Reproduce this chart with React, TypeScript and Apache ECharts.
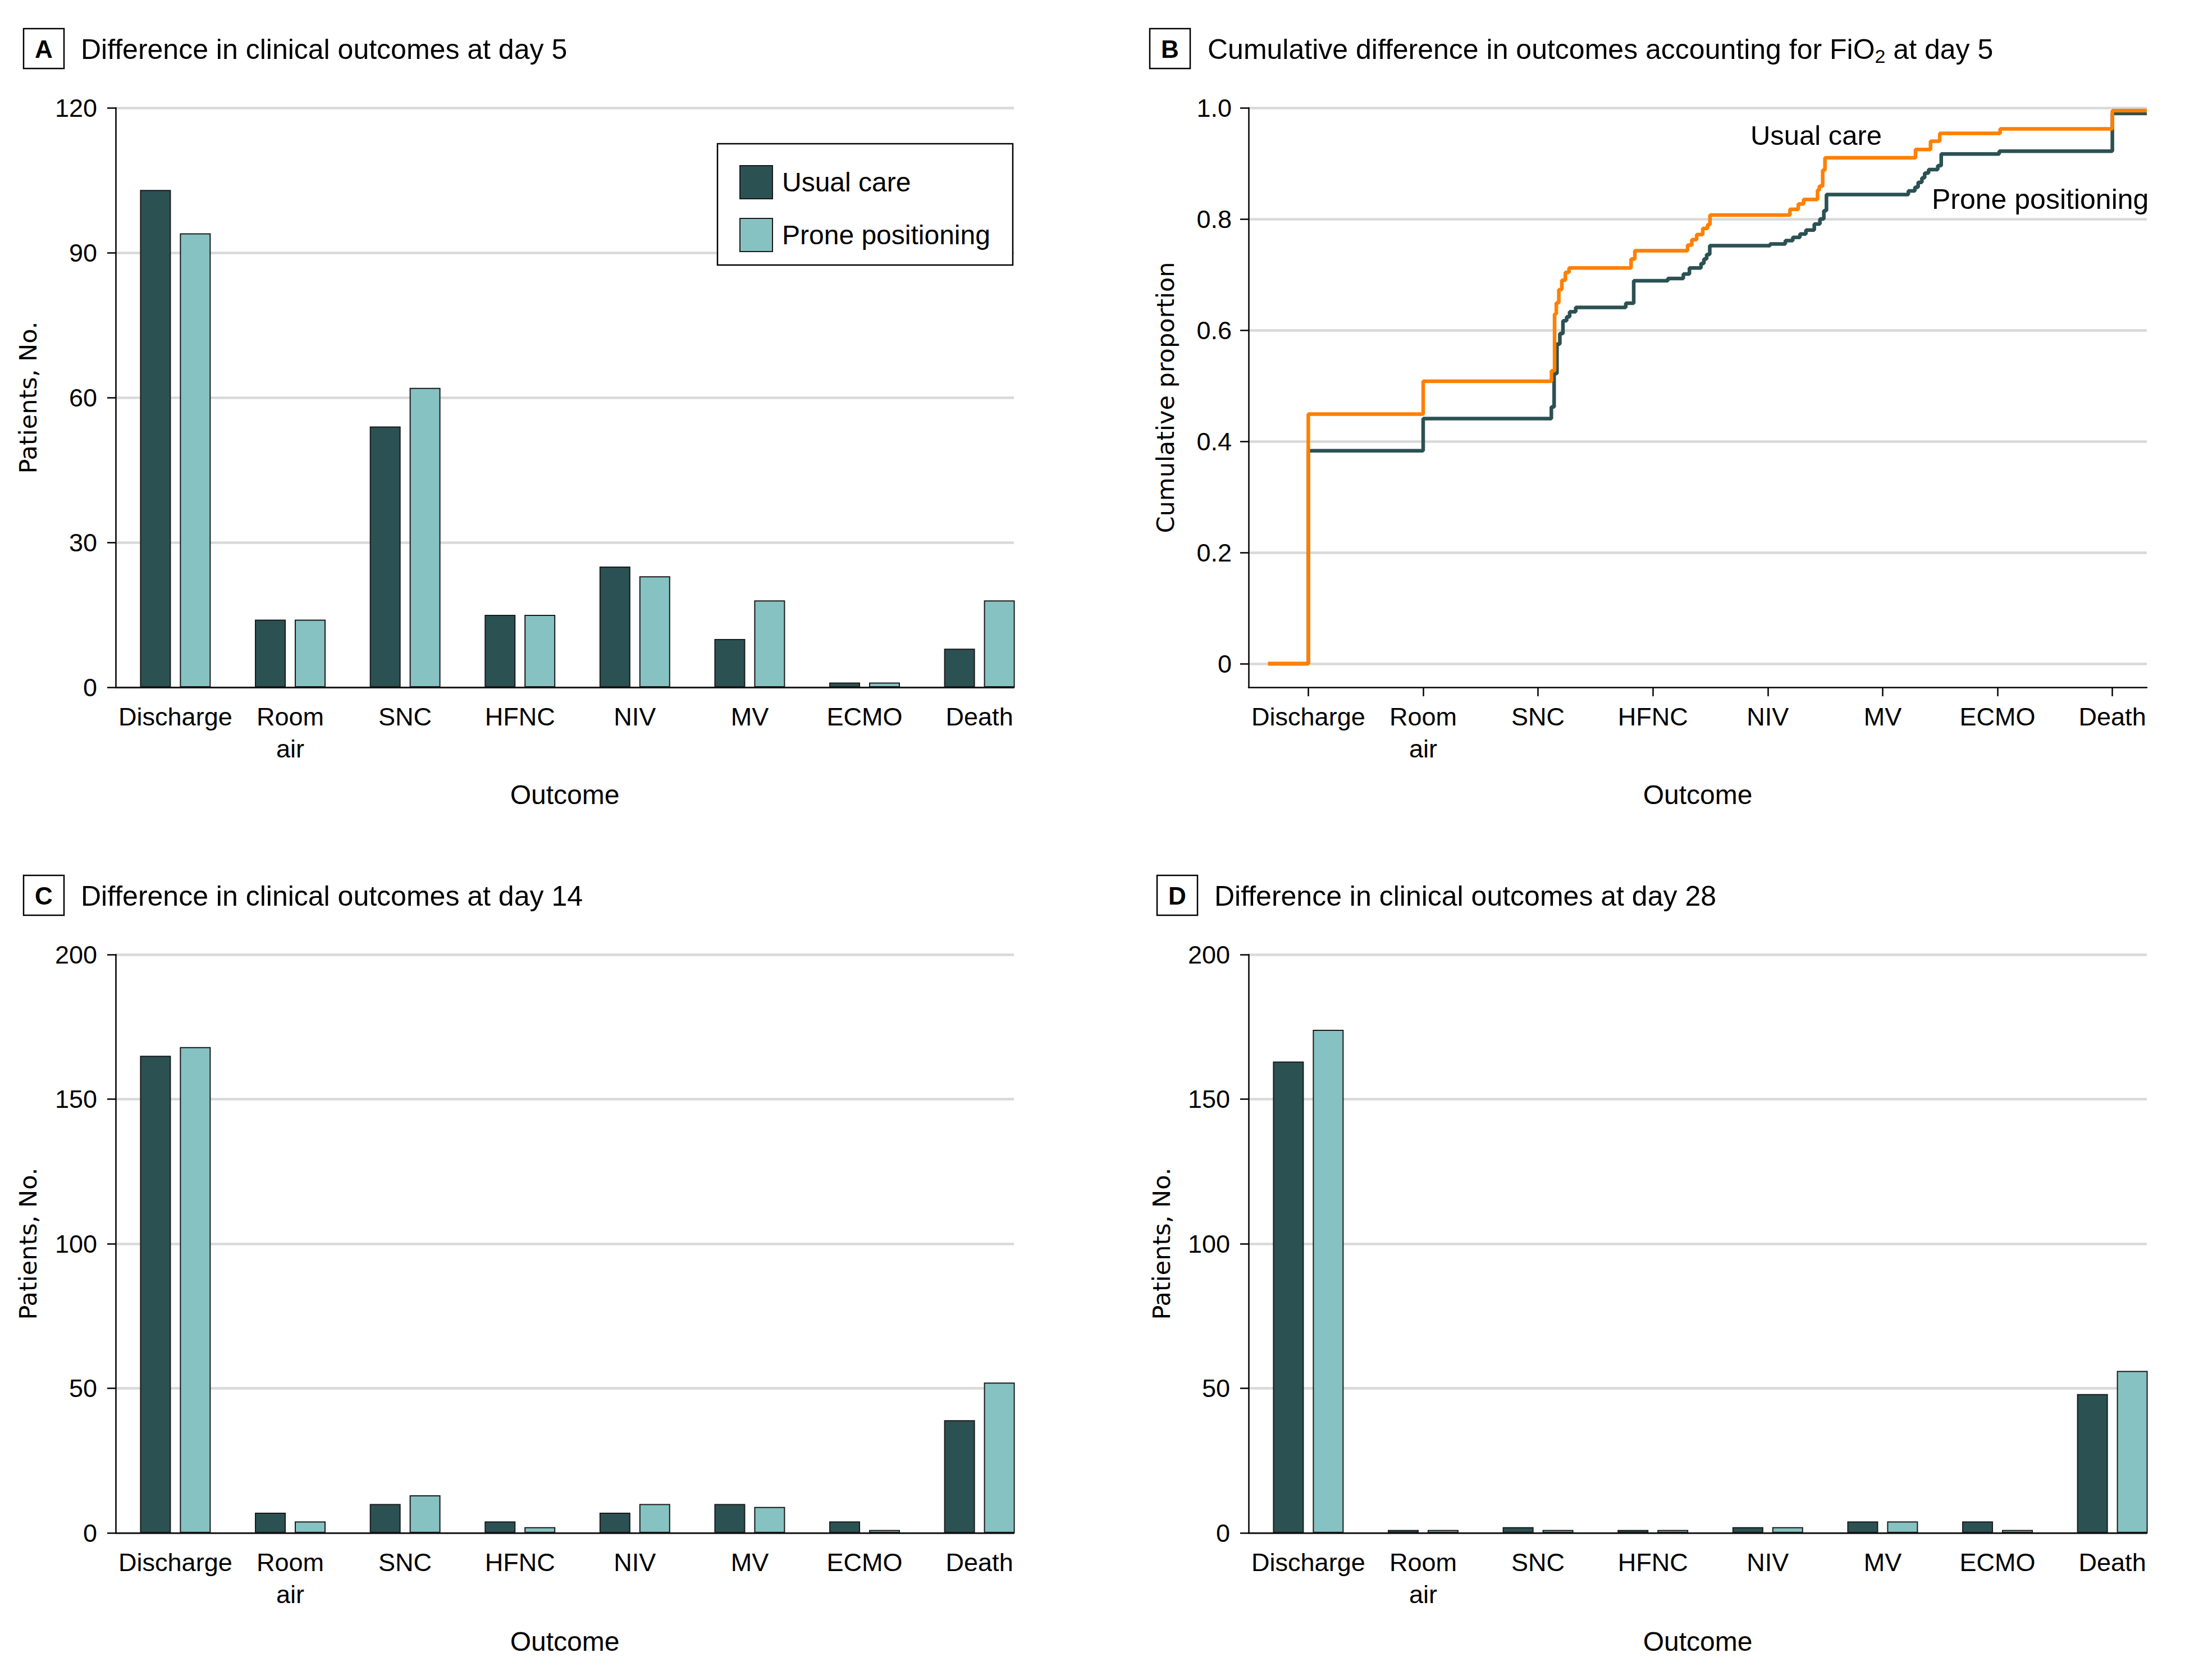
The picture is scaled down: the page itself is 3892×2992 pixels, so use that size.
import React, { useEffect, useRef } from 'react';
import * as echarts from 'echarts';

// ---------- data ----------
const outcomes = ['Discharge', 'Room\nair', 'SNC', 'HFNC', 'NIV', 'MV', 'ECMO', 'Death'];
const outcomePositions = [1, 2, 3, 4, 5, 6, 7, 8];

const day5UsualCare = [103, 14, 54, 15, 25, 10, 1, 8];
const day5Prone = [94, 14, 62, 15, 23, 18, 1, 18];
const day14UsualCare = [165, 7, 10, 4, 7, 10, 4, 39];
const day14Prone = [168, 4, 13, 2, 10, 9, 1, 52];
const day28UsualCare = [163, 1, 2, 1, 2, 4, 4, 48];
const day28Prone = [174, 1, 1, 1, 2, 4, 1, 56];

// cumulative proportion (step function) at day 5, [outcome position, proportion]
const cumUsualCare: [number, number][] = [
  [0.65, 0], [1, 0.449], [2, 0.508], [3.117, 0.527], [3.144, 0.629], [3.159, 0.649],
  [3.181, 0.673], [3.207, 0.69], [3.238, 0.704], [3.27, 0.712], [3.81, 0.728],
  [3.843, 0.743], [4.302, 0.753], [4.339, 0.763], [4.381, 0.772], [4.434, 0.783],
  [4.476, 0.79], [4.497, 0.807], [5.193, 0.8175], [5.266, 0.827], [5.312, 0.835],
  [5.433, 0.852], [5.449, 0.859], [5.478, 0.888], [5.498, 0.91], [6.286, 0.925],
  [6.417, 0.94], [6.497, 0.954], [7.023, 0.962], [8.0, 0.995], [8.3, 0.995],
];
const cumProne: [number, number][] = [
  [0.65, 0], [1, 0.383], [2, 0.441], [3.116, 0.462], [3.14, 0.522], [3.165, 0.575],
  [3.19, 0.594], [3.217, 0.617], [3.249, 0.624], [3.275, 0.633], [3.328, 0.641],
  [3.764, 0.6485], [3.833, 0.689], [4.13, 0.693], [4.265, 0.701], [4.318, 0.712],
  [4.419, 0.72], [4.444, 0.728], [4.468, 0.736], [4.495, 0.752], [5.02, 0.755],
  [5.153, 0.761], [5.218, 0.767], [5.28, 0.773], [5.332, 0.78], [5.405, 0.791],
  [5.454, 0.8], [5.488, 0.815], [5.511, 0.844], [6.224, 0.8505], [6.281, 0.857],
  [6.309, 0.866], [6.342, 0.874], [6.366, 0.8825], [6.4, 0.889], [6.48, 0.896],
  [6.51, 0.917], [7.015, 0.922], [8.0, 0.99], [8.3, 0.99],
];

const cumTicks = [0, 0.2, 0.4, 0.6, 0.8, 1.0];

const panelTitles = [
  'Difference in clinical outcomes at day 5',
  '',
  'Difference in clinical outcomes at day 14',
  'Difference in clinical outcomes at day 28',
];
const panelLetters = ['A', 'B', 'C', 'D'];

// ---------- styles ----------
const FONT = "'Liberation Sans', Arial, sans-serif";
const NAME_FONT = "'DejaVu Sans', Verdana, sans-serif";
const DARK = '#2b5153';
const LIGHT = '#86c2c1';
const ORANGE = '#ff8000';
const GRID_LINE = '#d9d9d9';

const grids = [
  { left: 206, top: 192, width: 1600, height: 1032 },
  { left: 2224, top: 192, width: 1600, height: 1032 },
  { left: 206, top: 1700, width: 1600, height: 1030 },
  { left: 2224, top: 1700, width: 1600, height: 1030 },
];

function buildOption(): any {
  const xAxes = grids.map((_, i) => ({
    type: 'value',
    gridIndex: i,
    min: 0.48,
    max: 8.3,
    splitLine: { show: false },
    axisLine: { show: true, onZero: false, lineStyle: { color: '#000', width: 2.5 } },
    axisTick: {
      show: i === 1,
      length: 16,
      customValues: outcomePositions,
      lineStyle: { color: '#000', width: 2.5 },
    },
    axisLabel: {
      customValues: outcomePositions,
      formatter: (v: number) => outcomes[Math.round(v) - 1] ?? '',
      fontSize: 45,
      lineHeight: 57,
      margin: 24,
      color: '#000',
      fontFamily: FONT,
    },
  }));

  const yCommon = (i: number) => ({
    type: 'value',
    gridIndex: i,
    axisLine: { show: true, onZero: false, lineStyle: { color: '#000', width: 2.5 } },
    axisTick: { show: true, length: 15, lineStyle: { color: '#000', width: 2.5 } },
    splitLine: { show: true, lineStyle: { color: GRID_LINE, width: 4.5 } },
    axisLabel: { fontSize: 45, margin: 33, color: '#000', fontFamily: FONT },
  });

  const yAxes: any[] = [
    { ...yCommon(0), min: 0, max: 120, interval: 30 },
    {
      ...yCommon(1),
      min: -0.0424,
      max: 1,
      axisTick: {
        show: true,
        length: 15,
        customValues: cumTicks,
        lineStyle: { color: '#000', width: 2.5 },
      },
      axisLabel: {
        fontSize: 45,
        margin: 30,
        color: '#000',
        fontFamily: FONT,
        customValues: cumTicks,
        formatter: (v: number) => (Math.abs(v) < 1e-9 ? '0' : v.toFixed(1)),
      },
    },
    { ...yCommon(2), min: 0, max: 200, interval: 50 },
    { ...yCommon(3), min: 0, max: 200, interval: 50 },
  ];

  const barSeries = (name: string, gridIdx: number, values: number[], color: string) => ({
    type: 'bar',
    name,
    xAxisIndex: gridIdx,
    yAxisIndex: gridIdx,
    data: outcomePositions.map((x, i) => [x, values[i]]),
    barWidth: 55,
    barGap: '29%',
    itemStyle: { color, borderColor: '#1a1a1a', borderWidth: 2 },
  });

  const series: any[] = [
    barSeries('Usual care', 0, day5UsualCare, DARK),
    barSeries('Prone positioning', 0, day5Prone, LIGHT),
    barSeries('Usual care', 2, day14UsualCare, DARK),
    barSeries('Prone positioning', 2, day14Prone, LIGHT),
    barSeries('Usual care', 3, day28UsualCare, DARK),
    barSeries('Prone positioning', 3, day28Prone, LIGHT),
    {
      type: 'line',
      name: 'B-Prone positioning',
      xAxisIndex: 1,
      yAxisIndex: 1,
      step: 'end',
      showSymbol: false,
      data: cumProne,
      lineStyle: { color: DARK, width: 6.5 },
      itemStyle: { color: DARK },
    },
    {
      type: 'line',
      name: 'B-Usual care',
      xAxisIndex: 1,
      yAxisIndex: 1,
      step: 'end',
      showSymbol: false,
      data: cumUsualCare,
      lineStyle: { color: ORANGE, width: 6.5 },
      itemStyle: { color: ORANGE },
    },
  ];

  const titleX = [144, 2151, 144, 2163];
  const titleY = [88, 88, 1596, 1596];
  const boxX = [42, 2048, 42, 2061];
  const boxY = [51, 51, 1559, 1559];

  const graphics: any[] = [];
  for (let i = 0; i < 4; i++) {
    graphics.push({
      type: 'rect',
      shape: { x: boxX[i], y: boxY[i], width: 72, height: 71 },
      style: { fill: '#fff', stroke: '#000', lineWidth: 2.5 },
      z: 10,
    });
    graphics.push({
      type: 'text',
      x: boxX[i] + 36,
      y: boxY[i] + 36,
      style: {
        text: panelLetters[i],
        fontSize: 44,
        fontWeight: 'bold',
        fontFamily: FONT,
        fill: '#000',
        align: 'center',
        verticalAlign: 'middle',
      },
      z: 11,
    });
    if (i === 1) {
      graphics.push({
        type: 'text',
        x: titleX[i],
        y: titleY[i],
        style: {
          text: '{a|Cumulative difference in outcomes accounting for FiO}{s|2}{a| at day 5}',
          rich: {
            a: { fontSize: 50, lineHeight: 58, fontFamily: FONT, fill: '#000', color: '#000' },
            s: { fontSize: 34, lineHeight: 16, verticalAlign: 'bottom', fontFamily: FONT, fill: '#000', color: '#000' },
          },
          align: 'left',
          verticalAlign: 'middle',
        },
        z: 11,
      });
    } else {
      graphics.push({
        type: 'text',
        x: titleX[i],
        y: titleY[i],
        style: {
          text: panelTitles[i],
          fontSize: 50,
          fontFamily: FONT,
          fill: '#000',
          align: 'left',
          verticalAlign: 'middle',
        },
        z: 11,
      });
    }
    const g = grids[i];
    // x axis name
    graphics.push({
      type: 'text',
      x: g.left + g.width / 2,
      y: i < 2 ? 1415 : 2923,
      style: {
        text: 'Outcome',
        fontSize: 48,
        fontFamily: FONT,
        fill: '#000',
        align: 'center',
        verticalAlign: 'middle',
      },
    });
    // y axis name
    const nameX = [50, 2076, 50, 2069];
    graphics.push({
      type: 'text',
      x: nameX[i],
      y: i < 2 ? 708 : 2215,
      rotation: Math.PI / 2,
      style: {
        text: i === 1 ? 'Cumulative proportion' : 'Patients, No.',
        fontSize: 43,
        fontFamily: NAME_FONT,
        fill: '#000',
        align: 'center',
        verticalAlign: 'middle',
      },
    });
  }

  // legend box (panel A)
  graphics.push({
    type: 'rect',
    shape: { x: 1278, y: 256, width: 526, height: 216 },
    style: { fill: '#fff', stroke: '#000', lineWidth: 2.5 },
    z: 10,
  });

  // line annotations (panel B)
  graphics.push({
    type: 'text',
    x: 3235,
    y: 241,
    style: {
      text: 'Usual care',
      fontSize: 49,
      fontFamily: FONT,
      fill: '#000',
      align: 'center',
      verticalAlign: 'middle',
    },
    z: 11,
  });
  graphics.push({
    type: 'text',
    x: 3441,
    y: 355,
    style: {
      text: 'Prone positioning',
      fontSize: 50,
      fontFamily: FONT,
      fill: '#000',
      align: 'left',
      verticalAlign: 'middle',
    },
    z: 11,
  });

  return {
    animation: false,
    backgroundColor: '#fff',
    grid: grids.map((g) => ({ ...g, containLabel: false })),
    xAxis: xAxes,
    yAxis: yAxes,
    legend: {
      data: ['Usual care', 'Prone positioning'],
      orient: 'vertical',
      left: 1312,
      top: 289,
      itemWidth: 58,
      itemHeight: 59,
      itemGap: 33,
      icon: 'rect',
      selectedMode: false,
      z: 20,
      textStyle: { fontSize: 48, fontFamily: FONT, color: '#000', padding: [0, 0, 0, 12] },
    },
    series,
    graphic: graphics,
  };
}

export default function App() {
  const ref = useRef<HTMLDivElement>(null);
  useEffect(() => {
    if (!ref.current) return;
    const chart = echarts.init(ref.current, undefined, { renderer: 'svg' });
    chart.setOption(buildOption());
    return () => chart.dispose();
  }, []);
  return (
    <div
      ref={ref}
      style={{ position: 'absolute', left: 0, top: 0, width: 3892, height: 2992, background: '#fff' }}
    />
  );
}
